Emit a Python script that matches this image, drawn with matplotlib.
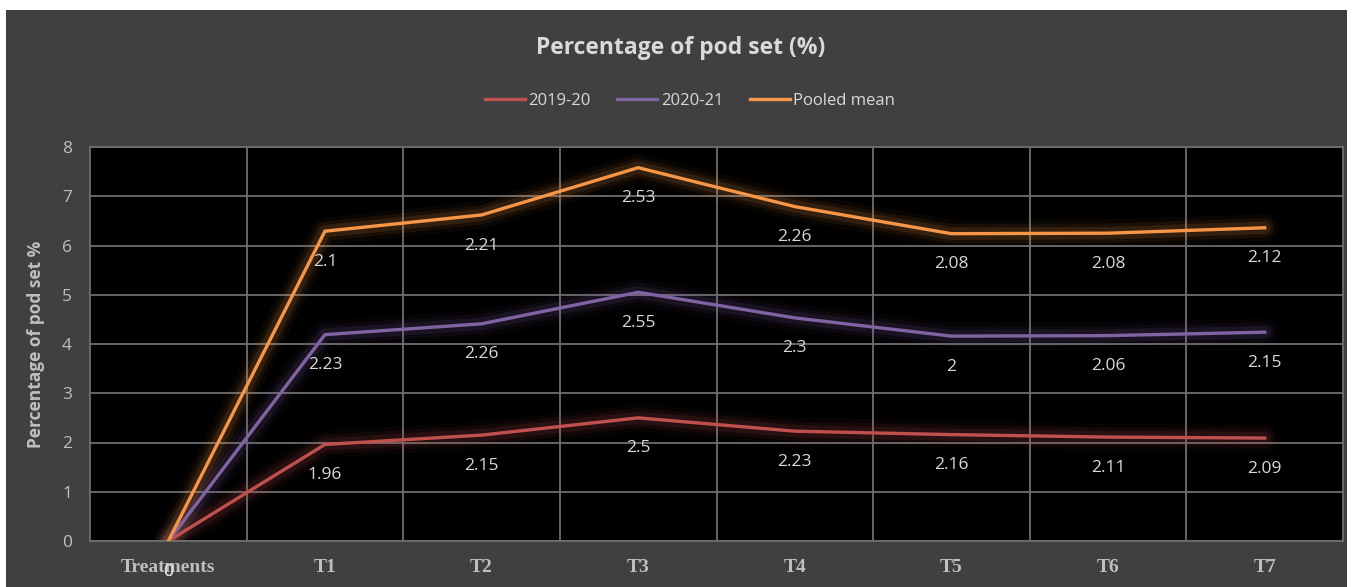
import numpy as np
import matplotlib.pyplot as plt
from matplotlib.patches import Rectangle

categories = ["Treatments", "T1", "T2", "T3", "T4", "T5", "T6", "T7"]
y2019 = [0, 1.96, 2.15, 2.5, 2.23, 2.16, 2.11, 2.09]
y2020 = [0, 2.23, 2.26, 2.55, 2.3, 2, 2.06, 2.15]
pooled = [0, 2.1, 2.21, 2.53, 2.26, 2.08, 2.08, 2.12]

series = [("2019-20", y2019, "#c0504d"),
          ("2020-21", y2020, "#8064a2"),
          ("Pooled mean", pooled, "#f79646")]

W, H = 1355, 587
fig = plt.figure(figsize=(W / 100, H / 100), dpi=100, facecolor="white")

# dark chart area behind everything
fig.patches.append(Rectangle((6 / W, 0), (1347 - 6) / W, (H - 10) / H,
                             transform=fig.transFigure, facecolor="#404040",
                             edgecolor="none", zorder=-10))

ax = fig.add_axes([90 / W, (H - 541) / H, (1343 - 90) / W, (541 - 147) / H])
ax.set_facecolor("black")

x = np.arange(len(categories))
base = np.zeros(len(categories))
# stacked line chart (each series is drawn on top of the previous one)
for name, vals, col in series:
    top = base + np.array(vals)
    # soft glow
    for lw, a in [(20, 0.04), (14, 0.07), (9, 0.12)]:
        ax.plot(x, top, color=col, lw=lw, alpha=a, solid_capstyle="round",
                solid_joinstyle="round", zorder=2)
    ax.plot(x, top, color=col, lw=2.4, label=name, zorder=3,
            solid_joinstyle="miter")
    for xi, yi, v in zip(x, top, vals):
        ax.annotate(f"{v:g}", (xi, yi), xytext=(0, -22), textcoords="offset points",
                    ha="center", va="center", color="#d9d9d9", fontsize=12.5,
                    family="Open Sans", zorder=4)
    base = top

ax.set_xlim(-0.5, 7.5)
ax.set_ylim(0, 8)
ax.set_yticks(range(0, 9))
ax.set_xticks(x)
ax.set_xticklabels(categories, family="Liberation Serif", fontweight="bold",
                   fontsize=14, color="#bfbfbf")
ax.set_xticks(np.arange(0.5, 7, 1), minor=True)
ax.tick_params(axis="x", which="both", length=0, pad=13)
ax.tick_params(axis="y", length=0, pad=13, labelcolor="#bfbfbf", labelsize=12.5)
for lab in ax.get_yticklabels():
    lab.set_family("Open Sans")
ax.grid(True, axis="y", which="major", color="#6e6e6e", lw=1.3, zorder=1)
ax.grid(True, axis="x", which="minor", color="#6e6e6e", lw=1.3, zorder=1)
for s in ax.spines.values():
    s.set_color("#6e6e6e")
    s.set_linewidth(1.3)

ax.set_ylabel("Percentage of pod set %", family="Open Sans", fontweight="bold",
              fontsize=12.5, color="#bfbfbf")
ax.yaxis.set_label_coords((45 - 90) / (1343 - 90), 0.5)

fig.text(681 / W, 1 - 48 / H, "Percentage of pod set (%)", ha="center", va="center",
         family="Open Sans", fontweight="bold", fontsize=16.5, color="#d9d9d9")

leg = fig.legend(loc="center", bbox_to_anchor=(690 / W, 1 - 101 / H), ncol=3,
                 frameon=False, handlelength=2.4, handletextpad=0.2, columnspacing=1.6,
                 prop={"family": "Open Sans", "size": 12})
for t in leg.get_texts():
    t.set_color("#d9d9d9")

fig.savefig("out.png", dpi=100, facecolor=fig.get_facecolor())
